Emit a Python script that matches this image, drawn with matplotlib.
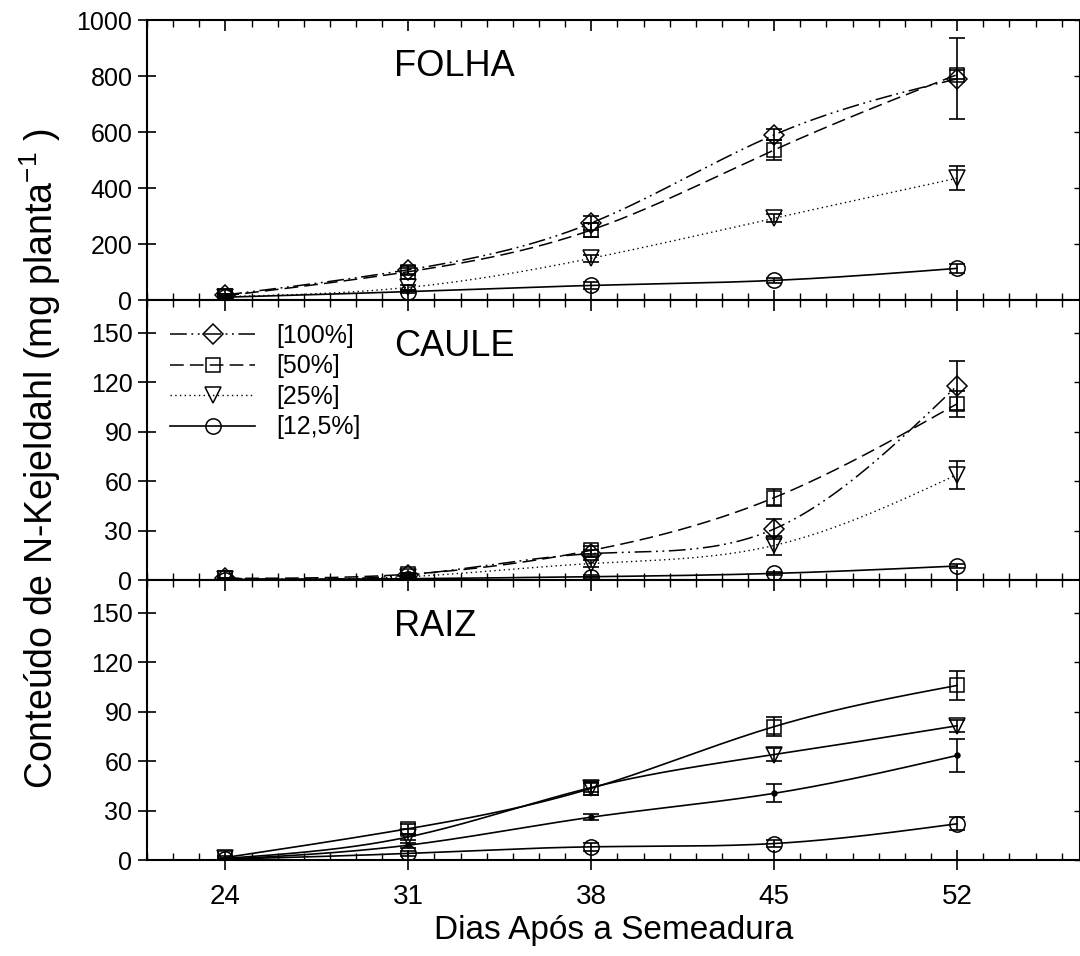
import numpy as np
import matplotlib
matplotlib.use("Agg")
import matplotlib.pyplot as plt
from matplotlib.lines import Line2D
from matplotlib.ticker import MultipleLocator

plt.rcParams['font.family'] = ['Liberation Sans', 'DejaVu Sans']
plt.rcParams['mathtext.fontset'] = 'custom'
plt.rcParams['mathtext.rm'] = 'Liberation Sans'

# ---------------- data ----------------
days = [24, 31, 38, 45, 52]
xtick_labels = ['24', '31', '38', '45', '52']
series_labels = ['[100%]', '[50%]', '[25%]', '[12,5%]']

folha_100 = [18, 108, 275, 590, 790]
folha_100_err = [5, 15, 25, 20, 145]
folha_50 = [15, 101, 250, 536, 805]
folha_50_err = [5, 12, 25, 35, 15]
folha_25 = [12, 45, 149, 292, 435]
folha_25_err = [4, 8, 12, 15, 42]
folha_12 = [10, 30, 52, 70, 113]
folha_12_err = [3, 6, 12, 8, 15]

caule_100 = [1, 3, 16, 31, 118]
caule_100_err = [0.5, 1, 2, 6, 15]
caule_50 = [1, 3.5, 18, 50, 107]
caule_50_err = [0.5, 1, 2.5, 5, 8]
caule_25 = [0.5, 2, 10, 21, 64]
caule_25_err = [0.3, 1, 2, 6, 8.5]
caule_12 = [0.3, 0.8, 2, 4, 8.5]
caule_12_err = [0.2, 0.3, 1, 1, 1.5]

raiz_100 = [0.5, 9, 26, 40.5, 63.5]
raiz_100_err = [0.3, 1.5, 2, 5.5, 10]
raiz_50 = [1.5, 19, 43.5, 81, 106]
raiz_50_err = [1, 3, 4, 6, 9]
raiz_25 = [1, 14, 44, 64, 81.5]
raiz_25_err = [0.5, 2, 3, 4, 3.5]
raiz_12 = [0.5, 4, 8, 10, 22]
raiz_12_err = [0.3, 1.5, 2.5, 2, 4]

panel_titles = ['FOLHA', 'CAULE', 'RAIZ']


def natural_spline(x, y, n=300):
    x = np.asarray(x, float)
    y = np.asarray(y, float)
    m = len(x)
    h = np.diff(x)
    A = np.zeros((m, m))
    b = np.zeros(m)
    A[0, 0] = 1
    A[-1, -1] = 1
    for i in range(1, m - 1):
        A[i, i - 1] = h[i - 1]
        A[i, i] = 2 * (h[i - 1] + h[i])
        A[i, i + 1] = h[i]
        b[i] = 3 * ((y[i + 1] - y[i]) / h[i] - (y[i] - y[i - 1]) / h[i - 1])
    c = np.linalg.solve(A, b)
    bb = np.diff(y) / h - h * (2 * c[:-1] + c[1:]) / 3
    d = np.diff(c) / (3 * h)
    xs = np.linspace(x[0], x[-1], n)
    idx = np.clip(np.searchsorted(x, xs) - 1, 0, m - 2)
    t = xs - x[idx]
    ys = y[idx] + bb[idx] * t + c[idx] * t ** 2 + d[idx] * t ** 3
    return xs, ys


ls_100 = (0, (11, 3, 1.2, 3, 1.2, 3))
ls_50 = (0, (9, 4))
ls_25 = (0, (1, 2.4))
ls_12 = '-'

styles_default = [
    dict(ls=ls_100, marker='D', ms=10, mfc='none', lw=1.1),
    dict(ls=ls_50, marker='s', ms=9.5, mfc='none', lw=1.1),
    dict(ls=ls_25, marker='v', ms=11, mfc='none', lw=1.0),
    dict(ls=ls_12, marker='o', ms=11, mfc='none', lw=1.2),
]
styles_raiz = [
    dict(ls='-', marker='o', ms=3.5, mfc='black', lw=1.2),
    dict(ls='-', marker='s', ms=9.5, mfc='none', lw=1.2),
    dict(ls='-', marker='v', ms=11, mfc='none', lw=1.2),
    dict(ls='-', marker='o', ms=11, mfc='none', lw=1.2),
]

panels = [
    ([folha_100, folha_50, folha_25, folha_12],
     [folha_100_err, folha_50_err, folha_25_err, folha_12_err],
     (0, 1000), np.arange(0, 1001, 200), styles_default),
    ([caule_100, caule_50, caule_25, caule_12],
     [caule_100_err, caule_50_err, caule_25_err, caule_12_err],
     (0, 170), np.arange(0, 151, 30), styles_default),
    ([raiz_100, raiz_50, raiz_25, raiz_12],
     [raiz_100_err, raiz_50_err, raiz_25_err, raiz_12_err],
     (0, 170), np.arange(0, 151, 30), styles_raiz),
]

fig = plt.figure(figsize=(10.8, 9.56), dpi=100)
W, H = 1080.0, 956.0
left_px, right_px = 147, 1080
tops = [20, 300, 580]
ph = 280
xlim = (21, 56.7)

axes = []
for k, (vals, errs, ylim, yticks, styles) in enumerate(panels):
    ax = fig.add_axes([left_px / W, (H - tops[k] - ph) / H,
                       (right_px - left_px) / W, ph / H])
    axes.append(ax)
    for v, e, st in zip(vals, errs, styles):
        xs, ys = natural_spline(days, v)
        ax.plot(xs, ys, color='black', ls=st['ls'], lw=st['lw'], zorder=2)
        ax.errorbar(days, v, yerr=e, fmt='none', ecolor='black',
                    elinewidth=1.2, capsize=6, capthick=1.2, zorder=3)
        ax.plot(days, v, ls='none', marker=st['marker'], ms=st['ms'],
                mfc=st['mfc'], mec='black', mew=1.1, zorder=4)
    ax.set_xlim(*xlim)
    ax.set_ylim(*ylim)
    ax.set_yticks(yticks)
    ax.set_xticks(days)
    ax.xaxis.set_minor_locator(MultipleLocator(1))
    for sp in ax.spines.values():
        sp.set_linewidth(1.5)
    ax.tick_params(axis='y', which='major', direction='inout', length=13,
                   width=1.2, labelsize=18, left=True, right=False, pad=4)
    ax.tick_params(axis='x', which='major', direction='inout', length=14,
                   width=1.2, top=False, bottom=True)
    ax.tick_params(axis='x', which='minor', direction='in', length=5,
                   width=1.0, top=False, bottom=True)
    # inward ticks on the top spine
    axt = ax.twiny()
    axt.set_xlim(*xlim)
    axt.set_xticks(days)
    axt.xaxis.set_minor_locator(MultipleLocator(1))
    axt.tick_params(axis='x', which='major', direction='in', length=8,
                    width=1.2, labeltop=False)
    axt.tick_params(axis='x', which='minor', direction='in', length=5,
                    width=1.0)
    for sp in axt.spines.values():
        sp.set_visible(False)
    # small inward ticks on the right spine
    ax2 = ax.twinx()
    ax2.set_ylim(*ylim)
    ax2.set_yticks(yticks)
    ax2.tick_params(axis='y', direction='in', length=4, width=1.0,
                    labelright=False)
    for sp in ax2.spines.values():
        sp.set_visible(False)
    ax.text(0.265, 0.80, panel_titles[k], transform=ax.transAxes,
            fontsize=26, ha='left', va='baseline')
    if k < 2:
        ax.tick_params(axis='x', labelbottom=False)
    else:
        ax.set_xticklabels(xtick_labels)
        ax.tick_params(axis='x', labelsize=20, pad=10)
        ax.set_xlabel('Dias Após a Semeadura', fontsize=24, labelpad=4)

# legend in CAULE panel
handles = []
for st in styles_default:
    handles.append(Line2D([0], [0], color='black', ls=st['ls'], lw=st['lw'],
                          marker=st['marker'], ms=st['ms'], mfc='none',
                          mec='black', mew=1.1))
axes[1].legend(handles, series_labels, loc='upper left',
               bbox_to_anchor=(0.025, 0.915), frameon=False, fontsize=18,
               handlelength=3.4, handletextpad=0.85, labelspacing=0.26,
               borderpad=0, borderaxespad=0)

fig.text(0.037, 0.52, r'Conteúdo de N-Kejeldahl (mg planta$^{\mathregular{-1}}$ )',
         rotation=90, fontsize=27, ha='center', va='center')

fig.savefig('out.png', dpi=100)
